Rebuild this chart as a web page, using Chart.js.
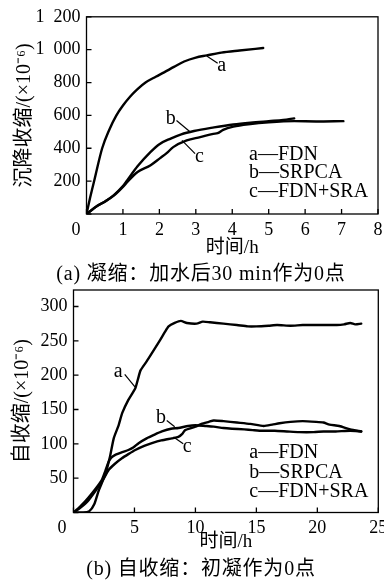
<!DOCTYPE html>
<html>
<head>
<meta charset="utf-8">
<script src="https://cdn.jsdelivr.net/npm/chart.js@4.4.1/dist/chart.umd.min.js"></script>
<style>
html, body { margin: 0; padding: 0; background: #fff; overflow: hidden; width: 384px; height: 586px; }
.box { position: absolute; left: 0; }
.cap { position: absolute; left: 0; width: 402px; text-align: center; white-space: nowrap; letter-spacing: 0.8px;
       font: 20px "Liberation Serif", "Noto Sans CJK SC", serif; color: #000; line-height: 24px; }
</style>
</head>
<body>
<div class="box" style="top:0;width:394px;height:262px"><canvas id="settleChart"></canvas></div>
<div class="cap" style="top:261px">(a) 凝缩：加水后30 min作为0点</div>
<div class="box" style="top:270px;width:394px;height:290px"><canvas id="autoChart"></canvas></div>
<div class="cap" style="top:556px">(b) 自收缩：初凝作为0点</div>

<script>
// (a) settlement shrinkage, hours after 30 min
const settleHoursA = [0, 0.1, 0.22, 0.43, 0.62, 0.82, 1.0, 1.2, 1.4, 1.62, 1.9, 2.13, 2.4, 2.68, 3.0, 3.3, 3.7, 4.2, 4.85];
const settleA      = [0, 100, 210, 400, 510, 600, 660, 715, 760, 800, 835, 862, 895, 928, 952, 965, 982, 995, 1010];
const settleHoursB = [0, 0.3, 0.5, 0.75, 1.0, 1.12, 1.4, 1.76, 2.0, 2.31, 2.6, 2.95, 3.5, 4.03, 4.5, 5.0, 5.4, 5.7];
const settleB      = [0, 50, 75, 115, 170, 206, 290, 378, 425, 459, 485, 505, 527, 545, 556, 565, 572, 582];
const settleHoursC = [0, 0.3, 0.5, 0.75, 1.0, 1.12, 1.4, 1.76, 2.02, 2.2, 2.38, 2.75, 3.12, 3.48, 3.6, 3.75, 4.03, 4.5, 5.0, 5.7, 6.3, 7.05];
const settleC      = [0, 50, 75, 112, 165, 195, 256, 297, 340, 370, 407, 448, 468, 488, 492, 512, 532, 548, 558, 565, 563, 565];

// (b) autogenous shrinkage, hours after initial set
const autoHoursA = [0, 0.8, 1.3, 1.7, 2.07, 2.6, 3.0, 3.3, 3.7, 4.0, 4.5, 5.07, 5.3, 5.5, 6.0, 6.43, 7.1, 7.5, 7.8, 8.3, 8.8, 9.3, 10.1, 10.6, 11.2, 12.3, 13.4, 14.3, 15.0, 16.0, 16.7, 17.8, 18.8, 20.0, 21.6, 22.2, 22.7, 23.1, 23.6];
const autoA      = [0, 0, 2, 12, 32, 55, 82, 108, 127, 145, 164, 181, 195, 207, 220, 232, 251, 263, 271, 276, 279, 276, 275, 278, 277, 275, 273, 271, 271, 272, 273, 272, 273, 273, 273, 274, 276, 274, 275];
const autoHoursB = [0, 0.5, 1.0, 1.52, 2.0, 2.34, 2.6, 2.88, 3.1, 3.43, 4.0, 4.5, 4.93, 5.34, 6.0, 6.6, 7.25, 8.0, 8.6, 9.4, 10.0, 10.8, 11.5, 12.3, 13.0, 14.0, 14.7, 15.5, 16.5, 17.5, 18.5, 19.7, 20.5, 21.5, 22.7, 23.6];
const autoB      = [0, 8, 17, 28, 39, 48, 60, 74, 80, 84, 88, 91, 95, 101, 108, 113, 118, 122, 123, 126, 127, 126, 125, 123, 122, 121, 120, 119, 119, 118, 117, 117, 118, 118, 119, 118];
const autoHoursC = [0, 0.5, 1.24, 2.07, 2.5, 2.88, 3.4, 3.97, 4.5, 5.07, 5.8, 6.43, 7.2, 8.07, 8.6, 8.9, 9.16, 10.0, 10.5, 11.1, 11.5, 12.3, 13.4, 14.5, 15.6, 16.3, 16.9, 17.8, 18.8, 19.9, 20.5, 21.0, 21.8, 22.7, 23.6];
const autoC      = [0, 6, 18, 38, 50, 62, 71, 79, 85, 91, 97, 101, 105, 108, 110, 114, 120, 125, 129, 132, 134, 133, 131, 129, 126, 128, 130, 132, 133, 132, 131, 128, 126, 121, 118];

const seriesNames = ['a—FDN', 'b—SRPCA', 'c—FDN+SRA'];

const SERIF = '"Liberation Serif", "Noto Sans CJK SC", serif';

function toPoints(xs, ys) {
    return xs.map((x, i) => ({ x: x, y: ys[i] }));
}

function fmtThousands(v) {
    if (v === 0) return '';
    return v >= 1000 ? String(v).replace(/(\d)(\d{3})$/, '$1  $2') : String(v);
}

// frame, inward ticks, curve letters, text legend, corner "0"
const framePlugin = {
    id: 'frame',
    afterDraw(chart, args, opts) {
        const ctx = chart.ctx;
        const a = chart.chartArea;
        const xs = chart.scales.x, ys = chart.scales.y;
        ctx.save();
        ctx.strokeStyle = '#000';
        ctx.lineWidth = 1.3;
        ctx.strokeRect(a.left, a.top, a.width, a.height);
        ctx.beginPath();
        xs.ticks.forEach(t => {
            const px = xs.getPixelForValue(t.value);
            ctx.moveTo(px, a.bottom);
            ctx.lineTo(px, a.bottom - 5);
        });
        ys.ticks.forEach(t => {
            const py = ys.getPixelForValue(t.value);
            ctx.moveTo(a.left, py);
            ctx.lineTo(a.left + 5, py);
        });
        ctx.stroke();

        ctx.fillStyle = '#000';
        ctx.font = '20px ' + SERIF;
        ctx.textAlign = 'center';
        ctx.textBaseline = 'middle';
        ctx.lineWidth = 1.2;
        opts.notes.forEach(n => {
            ctx.beginPath();
            ctx.moveTo(xs.getPixelForValue(n.from[0]), ys.getPixelForValue(n.from[1]));
            ctx.lineTo(xs.getPixelForValue(n.to[0]), ys.getPixelForValue(n.to[1]));
            ctx.stroke();
            ctx.fillText(n.text, xs.getPixelForValue(n.at[0]), ys.getPixelForValue(n.at[1]));
        });

        ctx.textAlign = 'left';
        seriesNames.forEach((name, i) => {
            ctx.fillText(name, a.right - opts.legendRight, a.bottom - opts.legendRows[i]);
        });

        // the shared "0" sits left of the corner
        const item = xs.getLabelItems()[0];
        if (item) {
            ctx.font = '18px ' + SERIF;
            ctx.textAlign = 'center';
            ctx.textBaseline = item.options.textBaseline;
            ctx.fillText('0', item.options.translation[0] + opts.zeroShift, item.options.translation[1] + item.textOffset);
        }
        ctx.restore();
    }
};

const tickFont = { family: SERIF, size: 18 };
const xTitleFont = { family: SERIF, size: 19, lineHeight: 1 };
const yTitleFont = { family: SERIF, size: 20, lineHeight: 1 };
const hideZero = c => (c.tick && c.tick.value === 0) ? 'rgba(0,0,0,0)' : '#000';

function lineSet(points, tension) {
    return {
        data: points,
        borderColor: '#000',
        borderWidth: 2.4,
        pointRadius: 0,
        fill: false,
        tension: tension,
        borderJoinStyle: 'round',
        borderCapStyle: 'round'
    };
}

// (a) chart
new Chart(document.getElementById('settleChart'), {
    type: 'line',
    data: {
        datasets: [
            Object.assign(lineSet(toPoints(settleHoursA, settleA), 0), { cubicInterpolationMode: 'monotone' }),
            Object.assign(lineSet(toPoints(settleHoursB, settleB), 0), { cubicInterpolationMode: 'monotone' }),
            Object.assign(lineSet(toPoints(settleHoursC, settleC), 0), { cubicInterpolationMode: 'monotone' })
        ]
    },
    options: {
        responsive: true,
        maintainAspectRatio: false,
        animation: false,
        layout: { padding: { left: 0, right: 16, top: 16, bottom: 0 } },
        plugins: {
            legend: { display: false },
            tooltip: { enabled: false },
            frame: {
                notes: [
                    { text: 'a', at: [3.71, 901], from: [3.3, 962], to: [3.6, 918] },
                    { text: 'b', at: [2.31, 579], from: [2.47, 569], to: [2.84, 500] },
                    { text: 'c', at: [3.1, 351], from: [2.62, 448], to: [2.98, 367] }
                ],
                legendRight: 129,
                legendRows: [59, 41, 22],
                zeroShift: -10.5
            }
        },
        scales: {
            x: {
                type: 'linear', min: 0, max: 8,
                afterFit: s => { s.height = 48; },
                grid: { display: false, drawTicks: false },
                border: { display: false },
                ticks: { stepSize: 1, padding: 5, font: tickFont, color: hideZero },
                title: { display: true, text: '时间/h', font: xTitleFont, color: '#000', padding: { top: 0, bottom: 4 } }
            },
            y: {
                min: 0, max: 1200,
                afterFit: s => { s.width = 86.5; },
                grid: { display: false, drawTicks: false },
                border: { display: false },
                ticks: { stepSize: 200, padding: 6, font: tickFont, color: '#000', callback: fmtThousands },
                title: { display: true, text: '沉降收缩/(×10⁻⁶)', font: yTitleFont, color: '#000', padding: { top: 15, bottom: 0 } }
            }
        }
    },
    plugins: [framePlugin]
});

// (b) chart
new Chart(document.getElementById('autoChart'), {
    type: 'line',
    data: {
        datasets: [
            lineSet(toPoints(autoHoursA, autoA), 0.2),
            lineSet(toPoints(autoHoursB, autoB), 0.2),
            lineSet(toPoints(autoHoursC, autoC), 0.2)
        ]
    },
    options: {
        responsive: true,
        maintainAspectRatio: false,
        animation: false,
        layout: { padding: { left: 0, right: 15.7, top: 20, bottom: 0 } },
        plugins: {
            legend: { display: false },
            tooltip: { enabled: false },
            frame: {
                notes: [
                    { text: 'a', at: [3.67, 205], from: [4.2, 201], to: [5.04, 183] },
                    { text: 'b', at: [7.17, 138], from: [7.65, 134], to: [8.3, 125] },
                    { text: 'c', at: [9.33, 96], from: [8.2, 110], to: [9.0, 100] }
                ],
                legendRight: 129,
                legendRows: [59.5, 39.5, 20.5],
                zeroShift: -11.5
            }
        },
        scales: {
            x: {
                type: 'linear', min: 0, max: 25,
                afterFit: s => { s.height = 47.5; },
                grid: { display: false, drawTicks: false },
                border: { display: false },
                ticks: { stepSize: 5, padding: 5, font: tickFont, color: hideZero },
                title: { display: true, text: '时间/h', font: xTitleFont, color: '#000', padding: { top: 0, bottom: 8.5 } }
            },
            y: {
                min: 0, max: 324,
                afterFit: s => { s.width = 73.5; },
                grid: { display: false, drawTicks: false },
                border: { display: false },
                ticks: { stepSize: 50, includeBounds: false, padding: 6, font: tickFont, color: '#000', callback: v => v === 0 ? '' : String(v) },
                title: { display: true, text: '自收缩/(×10⁻⁶)', font: yTitleFont, color: '#000', padding: { top: 12.5, bottom: 0 } }
            }
        }
    },
    plugins: [framePlugin]
});
</script>
</body>
</html>
